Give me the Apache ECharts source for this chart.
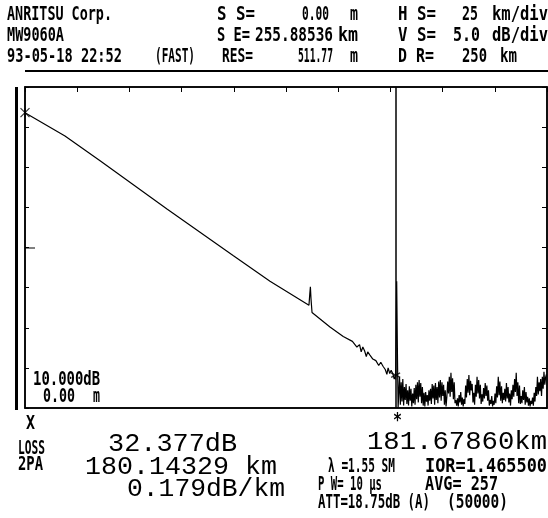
<!DOCTYPE html>
<html>
<head>
<meta charset="utf-8">
<script src="https://cdn.jsdelivr.net/npm/echarts@6/dist/echarts.min.js"></script>
<style>html,body{margin:0;padding:0;background:#fff}#c{width:548px;height:518px}</style>
</head>
<body>
<div id="c"></div>
<script>
// ---- data ----
// fibre trace up to the far-end reflection
var traceKm = [0,19.6,36.8,69.6,102.0,120.1,139.2,139.6,139.9,140.2,140.7,149.5,156.0,160.5,162.7,164.0,164.8,165.6,166.5,167.3,168.0,169.1,170.5,172.0,173.4,174.4,175.5,176.6,177.4,178.0,178.8,179.5,180.4,181.0,181.68,182.2,182.6,182.9];
var traceDb = [36.8,33.9,30.8,24.8,19.0,15.8,12.8,14.2,15.1,13.6,11.9,10.1,8.9,8.3,7.6,7.9,7.0,7.6,7.1,6.4,7.0,6.6,6.1,5.9,5.3,5.7,5.2,4.8,4.2,5.0,4.3,4.7,4.2,3.6,4.1,15.8,6.0,0.0];
// noise floor after the fibre end, one sample every 0.4 km
var noiseStartKm = 183.6;
var noiseStepKm = 0.4;
var noiseDb = [3.9,0.4,3.2,0.8,3.6,0.3,2.6,1.0,3.0,0.5,
2.2,0.3,2.7,0.9,2.4,0.2,1.8,0.6,2.5,0.4,
2.9,1.1,3.2,0.7,3.5,1.4,3.1,0.6,2.6,0.3,
1.9,0.2,2.0,0.8,1.6,0.3,2.2,0.9,2.4,0.5,
3.0,1.2,2.8,0.4,3.1,1.0,2.6,0.6,3.3,1.3,
3.5,0.9,3.2,1.5,2.9,0.4,2.2,0.2,1.4,3.3,
1.8,3.9,1.4,4.4,2.0,3.7,1.1,3.2,0.6,1.0,
0.3,1.2,0.2,1.6,0.7,2.0,0.4,1.3,0.2,1.1,
0.5,2.8,1.3,3.6,1.9,4.1,1.6,3.4,2.2,3.0,
0.7,1.9,0.4,2.9,1.4,3.9,1.8,3.5,1.2,2.9,
0.5,1.7,0.8,2.5,1.2,3.1,1.5,2.8,0.9,2.2,
0.3,1.0,0.5,1.5,0.2,0.9,0.4,1.8,0.6,2.7,
1.3,3.9,1.6,3.3,0.9,2.7,0.6,1.9,1.0,2.4,
0.8,3.1,1.2,2.6,0.7,1.8,0.3,2.2,1.1,2.9,
1.4,3.6,2.0,4.4,1.5,3.2,0.6,2.8,0.5,1.5,
0.6,2.2,1.0,2.6,0.4,2.0,0.7,1.4,0.3,1.2,
0.2,0.9,0.5,1.3,0.3,1.9,0.8,2.6,1.5,3.9,
1.7,3.2,2.1,3.6,1.5,3.9,2.4,4.5,2.9,3.8,4.2];
var spanEndKm = 255.88536;
var tickSpanKm = 250;      // D R = 250 km, H S = 25 km/div
var hScaleKm = 25;
var vScaleDb = 5;          // V S = 5.0 dB/div
var vRangeDb = 40;
var cursorKm = 181.6786;
var cursorDb = 4.1;
var startKm = 0;
var startDb = 36.8;

var header = [
  ["ANRITSU Corp.",7,15,105],["S S=",217,15,38],["0.00",302,15,27],["m",350,15,8],["H S=",398,15,38],["25",462,15,16],["km/div",492,15,56],
  ["MW9060A",7,36,57],["S E=",217,36,33],["255.88536",255,36,78],["km",338,36,20],["V S=",398,36,38],["5.0",453,36,27],["dB/div",492,36,56],
  ["93-05-18 22:52",7,57,115],["(FAST)",155,57,40],["RES=",222,57,31],["511.77",298,57,35],["m",350,57,8],["D R=",398,57,36],["250",462,57,25],["km",500,57,17]
];
var smallText = [
  ["10.000dB",33,380,67],["0.00",43,397,32],["m",93,397,7],
  ["X",26,424,9],["*",393,421,9],
  ["LOSS",18,449,27],["2PA",18,465,25],
  ["λ =1.55 SM",328,467,67],["IOR=1.465500",425,467,122],
  ["P W= 10 μs",318,485,64],["AVG= 257",425,485,73],
  ["ATT=18.75dB (A)",318,503,112],["(50000)",447,503,61]
];
var bigText = [
  ["181.67860km",367,442,180],["32.377dB",108,444,129],["180.14329 km",85,467,192],["0.179dB/km",127,489,158]
];

// ---- build ----
var trace = traceKm.map(function(d,i){return [d, traceDb[i]];});
noiseDb.forEach(function(v,i){ trace.push([noiseStartKm + i*noiseStepKm, v]); });

function txt(t, x, y, w, fam, size, adv, weight){
  return {type:'text', x:x, y:y, scaleX: w/(t.length*adv*size), silent:true,
    style:{text:t, fontFamily:fam, fontSize:size, fontWeight:weight, fill:'#000', align:'left', verticalAlign:'middle'}};
}
var g = [];
header.concat(smallText).forEach(function(a){ g.push(txt(a[0],a[1],a[2],a[3],'DejaVu Sans Mono',20,0.602,'bold')); });
bigText.forEach(function(a){ g.push(txt(a[0],a[1],a[2],a[3],'Liberation Mono',26,0.6,'normal')); });
g.push({type:'line', shape:{x1:25,y1:71,x2:548,y2:71}, style:{stroke:'#000', lineWidth:2}});
g.push({type:'rect', shape:{x:15,y:87,width:3,height:323}, style:{fill:'#000'}});
g.push({type:'line', shape:{x1:25,y1:248,x2:35,y2:248}, style:{stroke:'#000', lineWidth:1}});

var xPath = 'path://M0,0L10,10M10,0L0,10M5,0L5,10';
var starPath = 'path://M5,0L5,10M0,2.5L10,7.5M0,7.5L10,2.5';

var axisLine = {show:true, onZero:false, lineStyle:{color:'#000', width:1.5}};
var chart = echarts.init(document.getElementById('c'), null, {renderer:'canvas'});
chart.setOption({
  animation:false,
  backgroundColor:'#fff',
  grid:{left:25, right:1, top:87, bottom:110, show:true, borderColor:'#000', borderWidth:1.5, backgroundColor:'transparent'},
  xAxis:[
    {type:'value', min:0, max:spanEndKm, position:'bottom',
     axisLine:axisLine, axisTick:{show:false}, axisLabel:{show:false}, splitLine:{show:false}},
    {type:'value', min:0, max:tickSpanKm, interval:hScaleKm, position:'top',
     axisLine:axisLine, axisTick:{show:true, inside:true, length:5, lineStyle:{color:'#000'}}, axisLabel:{show:false}, splitLine:{show:false}}
  ],
  yAxis:[
    {type:'value', min:0, max:vRangeDb, interval:vScaleDb, position:'left',
     axisLine:axisLine, axisTick:{show:true, inside:true, length:4, lineStyle:{color:'#000'}}, axisLabel:{show:false}, splitLine:{show:false}},
    {type:'value', min:0, max:vRangeDb, interval:vScaleDb, position:'right',
     axisLine:axisLine, axisTick:{show:true, inside:true, length:5, lineStyle:{color:'#000'}}, axisLabel:{show:false}, splitLine:{show:false}}
  ],
  series:[
    {type:'line', data:trace, xAxisIndex:0, yAxisIndex:0, showSymbol:false, symbol:'none', sampling:null,
     lineStyle:{color:'#000', width:1.2}, silent:true,
     markLine:{silent:true, symbol:['none','none'], label:{show:false},
       lineStyle:{color:'#000', width:1.5, type:'solid'}, data:[{xAxis:cursorKm}]}},
    {type:'scatter', data:[[startKm,startDb]], xAxisIndex:0, yAxisIndex:0, symbol:xPath, symbolSize:9,
     itemStyle:{color:'none', borderColor:'#000', borderWidth:1.2}, silent:true},
    {type:'scatter', data:[[cursorKm,cursorDb]], xAxisIndex:0, yAxisIndex:0, symbol:starPath, symbolSize:9,
     itemStyle:{color:'none', borderColor:'#000', borderWidth:1.2}, silent:true}
  ],
  graphic:g
});
</script>
</body>
</html>
